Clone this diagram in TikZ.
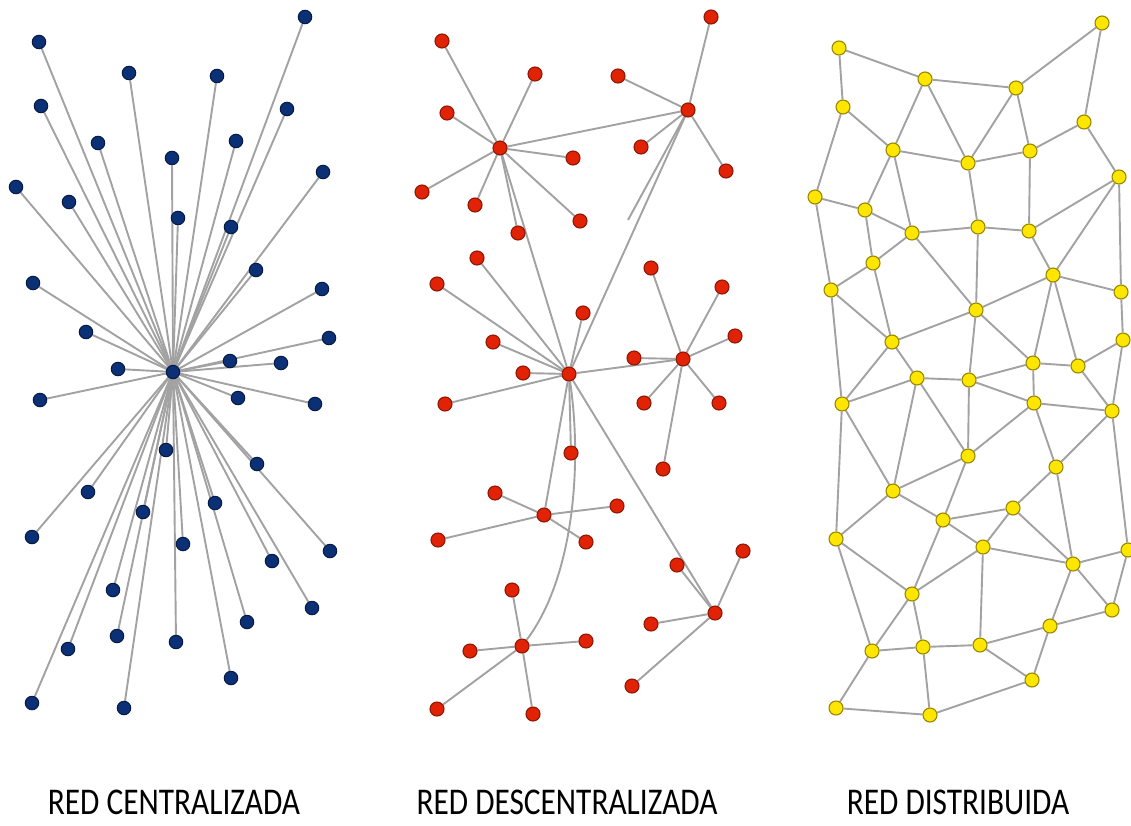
\documentclass[tikz,border=0pt]{standalone}
\usepackage{fontspec}
\setmainfont{Carlito}
\pgfdeclarelayer{bg}
\pgfdeclarelayer{edges}
\pgfsetlayers{bg,edges,main}
\definecolor{edgegray}{RGB}{162,162,162}
\definecolor{bluefill}{RGB}{12,48,118}
\definecolor{blueline}{RGB}{6,26,66}
\definecolor{redfill}{RGB}{226,34,4}
\definecolor{redline}{RGB}{140,24,6}
\definecolor{yelfill}{RGB}{255,230,0}
\definecolor{yelline}{RGB}{150,135,0}
\tikzset{
  bnode/.style={circle,inner sep=0pt,minimum size=13.5pt,fill=bluefill,draw=blueline,line width=1pt},
  rnode/.style={circle,inner sep=0pt,minimum size=14pt,fill=redfill,draw=redline,line width=1.1pt},
  ynode/.style={circle,inner sep=0pt,minimum size=14pt,fill=yelfill,draw=yelline,line width=1.1pt},
  link/.style={draw=edgegray,line width=1.9pt},
  caption/.style={font=\fontsize{32}{36}\selectfont,anchor=center,inner sep=0pt}
}
\begin{document}
\begin{tikzpicture}[x=1pt,y=-1pt]
\useasboundingbox (0,0) rectangle (1131,825);
\begin{pgfonlayer}{bg}
\fill[white] (0,0) rectangle (1131,825);
\end{pgfonlayer}

% ---------- centralized ----------
\node[bnode] (chub) at (173,372) {};
\foreach \x/\y [count=\i] in {39/42,305/17,129/73,217/76,41/106,287/109,98/143,236/141,172/158,323/172,16/187,69/202,178/218,231/227,
256/270,33/283,322/289,86/332,329/338,230/361,281/363,118/369,40/400,238/398,315/404,166/450,257/464,
88/492,143/512,215/503,32/537,183/544,330/551,272/561,113/590,312/608,247/622,117/636,68/649,176/642,231/678,32/703,124/708}
{
  \node[bnode] (c\i) at (\x,\y) {};
  \begin{pgfonlayer}{edges}\draw[link] (chub) -- (c\i);\end{pgfonlayer}
}

% ---------- decentralized ----------
\node[rnode] (hA) at (500,148) {};
\node[rnode] (hB) at (688,110) {};
\node[rnode] (hC) at (569,374) {};
\node[rnode] (hD) at (683,359) {};
\node[rnode] (hE) at (544,515) {};
\node[rnode] (hF) at (522,646) {};
\node[rnode] (hG) at (715,613) {};
\coordinate (freeB) at (628,220);
\foreach \x/\y/\h [count=\i] in {442/41/hA,535/74/hA,447/113/hA,573/158/hA,422/192/hA,475/205/hA,580/221/hA,518/233/hA,
711/17/hB,618/76/hB,641/147/hB,726/171/hB,
477/258/hC,437/284/hC,583/313/hC,493/342/hC,523/373/hC,445/404/hC,571/453/hC,
651/268/hD,722/287/hD,735/336/hD,634/358/hD,644/403/hD,719/403/hD,663/469/hD,
495/493/hE,617/506/hE,438/540/hE,586/542/hE,
512/590/hF,470/651/hF,586/641/hF,437/709/hF,533/714/hF,
677/565/hG,743/551/hG,651/624/hG,632/686/hG}
{
  \node[rnode] (r\i) at (\x,\y) {};
  \begin{pgfonlayer}{edges}\draw[link] (\h) -- (r\i);\end{pgfonlayer}
}
\begin{pgfonlayer}{edges}
\draw[link] (hA) -- (hB);
\draw[link] (hA) -- (hC);
\draw[link] (hB) -- (hC);
\draw[link] (hB) -- (freeB);
\draw[link] (hC) -- (hD);
\draw[link] (hC) -- (hE);
\draw[link] (hC) -- (hG);
\draw[link] (hC) .. controls (583,470) and (572,580) .. (hF);
\end{pgfonlayer}

% ---------- distributed ----------
\foreach \x/\y [count=\i] in {839/48,1102/23,925/79,1016/88,843/107,1084/122,893/150,968/163,1030/151,1119/177,
815/197,865/210,912/233,978/227,1029/231,873/263,1053/275,831/290,1121/292,976/310,
1123/340,892/342,1033/363,1078/366,917/378,969/380,842/404,1034/403,1112/411,968/456,
1056/467,893/491,1013/508,943/520,983/547,836/539,1128/550,1073/564,912/594,1112/610,
1050/626,872/651,923/647,980/645,1032/680,836/708,930/715}
{
  \node[ynode] (d\i) at (\x,\y) {};
}
\begin{pgfonlayer}{edges}
\foreach \a/\b in {1/3,1/5,3/4,3/7,3/8,4/2,4/8,4/9,2/6,5/7,5/11,6/9,6/10,7/8,7/12,7/13,8/9,8/14,9/15,
10/15,10/17,10/19,11/12,11/18,12/13,12/16,13/14,13/16,13/20,14/15,14/20,15/17,17/19,17/20,17/23,17/24,
19/21,16/18,16/22,18/22,18/27,20/22,20/26,20/23,21/24,21/29,22/25,22/27,23/24,23/26,23/28,24/29,
25/26,25/27,25/30,25/32,26/28,26/30,27/32,27/36,28/29,28/30,28/31,29/31,29/37,30/32,30/34,
32/36,32/34,31/33,31/38,33/34,33/35,33/38,34/35,34/39,35/38,35/39,35/44,36/39,36/42,37/38,37/40,
38/40,38/41,39/42,39/43,40/41,41/44,41/45,42/43,42/46,43/44,43/47,44/45,45/47,46/47}
{
  \draw[link] (d\a) -- (d\b);
}
\end{pgfonlayer}

% ---------- captions ----------
\node[caption] (t1) at (174,802) {\scalebox{0.98}[1.18]{RED CENTRALIZADA}};
\node[caption] (t2) at (567,802) {\scalebox{0.98}[1.18]{RED DESCENTRALIZADA}};
\node[caption] (t3) at (958,802) {\scalebox{0.98}[1.18]{RED DISTRIBUIDA}};
\end{tikzpicture}
\end{document}
